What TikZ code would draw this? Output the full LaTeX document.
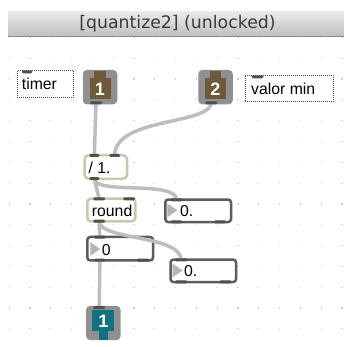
\documentclass[tikz,border=0pt]{standalone}
\usepackage{fontspec}
\setmainfont{Liberation Sans}
\newfontfamily\titlefont{DejaVu Sans}
\definecolor{cordgray}{HTML}{BDBDBD}
\definecolor{tabdark}{HTML}{4F4F4F}
\definecolor{objborder}{HTML}{C2CBAA}
\definecolor{numborder}{HTML}{5C5C5C}
\definecolor{iobase}{HTML}{909090}
\definecolor{inbrown}{HTML}{6E5A3A}
\definecolor{outteal}{HTML}{12717E}
\definecolor{griddot}{HTML}{CDCDCD}
\definecolor{titletext}{HTML}{3A3A3A}
\definecolor{trigray}{HTML}{B5B5B5}
\begin{document}
\begin{tikzpicture}[x=1pt,y=-1pt,
  cord/.style={draw=cordgray, line width=3.5},
  porttab/.style={fill=tabdark, rounded corners=1.2},
  cmtbox/.style={draw=black!70, line width=0.8, dash pattern=on 1pt off 1pt,
    fill=white, inner sep=0},
  objbox/.style={draw=objborder, line width=2.5, rounded corners=4,
    fill=white, inner sep=0},
  numbox/.style={draw=numborder, line width=2.5, rounded corners=3,
    fill=white, inner sep=0},
  iobox/.style={fill=iobase, rounded corners=4, inner sep=0,
    minimum width=34.5, minimum height=34.3},
  lbl/.style={font=\fontsize{15.8}{18}\selectfont, inner sep=0, text=black,
    anchor=base west},
  ionum/.style={font=\bfseries\fontsize{18}{20}\selectfont, inner sep=0,
    text=white, anchor=base}
]
\useasboundingbox (0,0) rectangle (344,347);
\fill[white] (0,0) rectangle (344,347);

% editing grid
\foreach \i in {0,...,16}
  \foreach \j in {0,...,14}
    \fill[griddot] ({8.5+20.8*\i},{36.9+20.8*\j}) rectangle ++(1.2,1.2);

% window title bar
\shade[top color=black!8, bottom color=black!25] (8,11.7) rectangle (344,36);
\draw[black!45, line width=1] (8,36.3) -- (344,36.3);
\node[font=\titlefont\fontsize{17.3}{20}\selectfont, text=titletext, inner sep=0]
  (title) at (177.5,23.3) {[quantize2] (unlocked)};

% comments
\node[cmtbox, minimum width=56.2, minimum height=27.2] (timer) at (45.5,84) {};
\node[lbl] (timertxt) at (21.7,89.6) {timer};
\node[cmtbox, minimum width=88.2, minimum height=26.5] (valor) at (289.5,88.65) {};
\node[lbl] (valortxt) at (251,94.6) {valor min};

% inlets
\node[iobox] (inA) at (100,87.15) {};
\fill[inbrown] (94.3,71) rectangle (106,79);
\fill[inbrown] (89.8,78) rectangle (110.5,99.3);
\node[ionum] (inAnum) at (100,95.6) {1};
\node[iobox] (inB) at (215.5,87.15) {};
\fill[inbrown] (209.6,71) rectangle (221.3,79);
\fill[inbrown] (205.1,78) rectangle (225.8,99.3);
\node[ionum] (inBnum) at (215.3,95.6) {2};

% outlet
\node[iobox] (outA) at (103.35,323) {};
\fill[outteal] (92.3,310) rectangle (114.2,330.5);
\fill[outteal] (98.8,330) rectangle (108.3,340.1);
\node[ionum] (outAnum) at (103.4,327.6) {1};

% objects
\node[objbox, minimum width=42.5, minimum height=23.5] (div) at (105.8,167) {};
\node[lbl] (divtxt) at (88.3,173.4) {/ 1.};
\node[objbox, minimum width=48.2, minimum height=22.9] (rnd) at (111.35,210) {};
\node[lbl] (rndtxt) at (91.7,216.6) {round};

% number boxes
\node[numbox, minimum width=65.8, minimum height=22.5] (fA) at (198.15,210.8) {};
\fill[trigray] (167.3,203.3) -- (177.3,210.3) -- (167.3,217.3) -- cycle;
\node[lbl] (fAtxt) at (180,216.6) {0.};
\node[numbox, minimum width=65.8, minimum height=23.5] (iA) at (120.15,248.7) {};
\fill[trigray] (90.3,242) -- (100,249) -- (90.3,256) -- cycle;
\node[lbl] (iAtxt) at (101.7,255.2) {0};
\node[numbox, minimum width=65.5, minimum height=22.5] (fB) at (203.3,270.8) {};
\fill[trigray] (172.5,263.5) -- (182.5,270.5) -- (172.5,277.5) -- cycle;
\node[lbl] (fBtxt) at (184,276.8) {0.};

% port positions
\coordinate (inAo) at (96,104);
\coordinate (inBo) at (211.3,104);
\coordinate (divL) at (94.3,155.5);
\coordinate (divR) at (114.6,155.5);
\coordinate (divO) at (94.3,178.5);
\coordinate (rndL) at (99.2,198.8);
\coordinate (rndO) at (99.2,221.2);
\coordinate (fAin) at (176.5,199.8);
\coordinate (iAin) at (99.7,237.2);
\coordinate (iAo) at (99.9,260.2);
\coordinate (fBin) at (181,259.8);
\coordinate (outAin) at (99.2,307.5);

% patch cords
\draw[cord] (inAo) -- (divL);
\draw[cord] (inBo) .. controls (205,125) and (115,118) .. (divR);
\draw[cord] (divO) -- (rndL);
\draw[cord] (divO) .. controls (94,195) and (176.5,180) .. (fAin);
\draw[cord] (rndO) -- (iAin);
\draw[cord] (rndO) .. controls (99,240) and (181,235) .. (fBin);
\draw[cord] (iAo) -- (outAin);

% inlet and outlet tabs
\fill[porttab] (22,70.3) rectangle (32.3,73.3);
\fill[porttab] (251.7,75.3) rectangle (263.3,78.3);
\fill[porttab] (90,101.3) rectangle (102,104.3);
\fill[porttab] (205.3,101.3) rectangle (217.3,104.3);
\fill[porttab] (89.3,154) rectangle (99.3,157);
\fill[porttab] (109.3,154) rectangle (120,157);
\fill[porttab] (89.3,177) rectangle (99.3,180);
\fill[porttab] (93.3,197.3) rectangle (105,200.3);
\fill[porttab] (123.3,197.3) rectangle (135,200.3);
\fill[porttab] (93.3,219.7) rectangle (105,222.7);
\fill[porttab] (170.5,198.3) rectangle (182.5,201.3);
\fill[porttab] (170.5,220.3) rectangle (182,223.3);
\fill[porttab] (214,220.3) rectangle (225.8,223.3);
\fill[porttab] (94,235.7) rectangle (105.5,238.7);
\fill[porttab] (94.3,258.7) rectangle (105.5,261.7);
\fill[porttab] (137,258.7) rectangle (149,261.7);
\fill[porttab] (175,258.3) rectangle (187,261.3);
\fill[porttab] (175,280.3) rectangle (187,283.3);
\fill[porttab] (219.5,280.3) rectangle (231.3,283.3);
\fill[porttab] (93.3,306) rectangle (105,309);
\end{tikzpicture}
\end{document}
